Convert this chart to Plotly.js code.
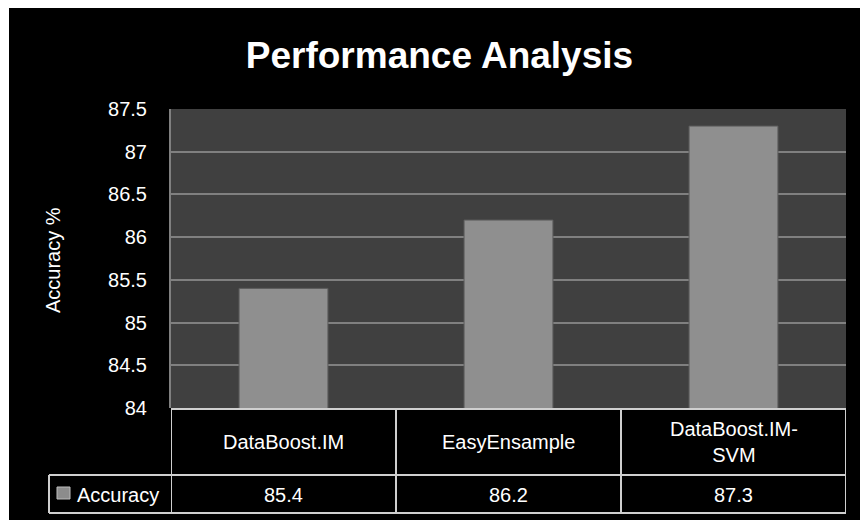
<!DOCTYPE html>
<html>
<head>
<meta charset="utf-8">
<script src="https://cdn.plot.ly/plotly-3.0.1.min.js"></script>
<style>html,body{margin:0;padding:0;background:#fff;}#chart{width:860px;height:520px;}</style>
</head>
<body>
<div id="chart"></div>
<script>
// ---- data ----
const chartTitle = "Performance Analysis";
const yAxisTitle = "Accuracy %";
const seriesName = "Accuracy";
const categories = ["DataBoost.IM", "EasyEnsample", "DataBoost.IM-<br>SVM"];
const accuracy = [85.4, 86.2, 87.3];
const yTickValues = [84, 84.5, 85, 85.5, 86, 86.5, 87, 87.5];
const yTickLabels = ["84", "84.5", "85", "85.5", "86", "86.5", "87", "87.5"];

// ---- layout helpers ----
const W = 860, H = 520;
const M = {l: 171, r: 14, t: 109, b: 112};
const plotH = H - M.t - M.b, plotW = W - M.l - M.r;
const py = p => (H - M.b - p) / plotH;      // pixel y -> paper y
const px = p => (p - M.l) / plotW;          // pixel x -> paper x
const FONT = '"Liberation Sans", Arial, sans-serif';
const lineCol = '#cfcfcf';
const xs = categories.map((_, i) => i);

const shapes = [];
// white strips at top and left of the black panel
shapes.push({type:'rect', xref:'paper', yref:'paper', x0:px(-5), x1:px(W+5), y0:py(8), y1:py(-5),
  fillcolor:'#fff', line:{width:0}, layer:'below'});
shapes.push({type:'rect', xref:'paper', yref:'paper', x0:px(-5), x1:px(9), y0:py(H+5), y1:py(-5),
  fillcolor:'#fff', line:{width:0}, layer:'below'});
// table lines
const rowTop = 409, rowMid = 475, rowBot = 513, legLeft = 49;
const hline = (x0, x1, xref, y) => shapes.push({type:'line', xref:xref, yref:'paper', x0:x0, x1:x1, y0:py(y), y1:py(y), line:{color:lineCol, width:2}});
hline(-0.5, categories.length - 0.5, 'x', rowTop);
hline(px(legLeft), 1, 'paper', rowMid);
hline(px(legLeft), 1, 'paper', rowBot);
for (let k = 0; k <= categories.length; k++) {
  shapes.push({type:'line', xref:'x', yref:'paper', x0:k - 0.5, x1:k - 0.5, y0:py(rowTop), y1:py(rowBot), line:{color:lineCol, width:2}});
}
shapes.push({type:'line', xref:'paper', yref:'paper', x0:px(legLeft), x1:px(legLeft), y0:py(rowMid), y1:py(rowBot), line:{color:lineCol, width:2}});
// legend key
shapes.push({type:'rect', xref:'paper', yref:'paper', x0:px(57), x1:px(70), y0:py(499), y1:py(487),
  fillcolor:'#8c8c8c', line:{color:'#bdbdbd', width:1}});

const annotations = [];
categories.forEach((c, i) => {
  annotations.push({xref:'x', yref:'paper', x:i, y:py(442), text:c, showarrow:false,
    font:{family:FONT, size:20, color:'#fff'}, xanchor:'center', yanchor:'middle'});
  annotations.push({xref:'x', yref:'paper', x:i, y:py(495), text:String(accuracy[i]), showarrow:false,
    font:{family:FONT, size:20, color:'#fff'}, xanchor:'center', yanchor:'middle'});
});
annotations.push({xref:'paper', yref:'paper', x:px(75), y:py(495), text:seriesName, showarrow:false,
  font:{family:FONT, size:20, color:'#fff'}, xanchor:'left', yanchor:'middle'});
annotations.push({xref:'paper', yref:'paper', x:px(53), y:py(260), text:yAxisTitle, showarrow:false, textangle:-90,
  font:{family:FONT, size:20, color:'#fff'}, xanchor:'center', yanchor:'middle'});

const data = [{
  type:'bar', x:xs, y:accuracy, name:seriesName, width:0.395,
  marker:{color:'#8f8f8f', line:{color:'#5c5c5c', width:1}},
  hoverinfo:'skip'
}];

const layout = {
  width:W, height:H,
  margin:M,
  paper_bgcolor:'#000000',
  plot_bgcolor:'#404040',
  showlegend:false,
  title:{text:chartTitle, x:0.511, xanchor:'center', y:1 - 55/H, yanchor:'middle', yref:'container',
    font:{family:FONT, size:37, color:'#fff', weight:'bold'}},
  xaxis:{range:[-0.5, categories.length - 0.5], showticklabels:false, showgrid:false, zeroline:false, fixedrange:true},
  yaxis:{range:[84, 87.5], tickvals:yTickValues, ticktext:yTickLabels, showgrid:true, gridcolor:'#808080', gridwidth:2,
    zeroline:false, showline:true, linecolor:'#808080', linewidth:2, ticks:'', ticklabelstandoff:18,
    tickfont:{family:FONT, size:20, color:'#fff'}, fixedrange:true},
  shapes:shapes,
  annotations:annotations,
  hovermode:false
};

Plotly.newPlot('chart', data, layout, {displayModeBar:false, staticPlot:true});
</script>
</body>
</html>
